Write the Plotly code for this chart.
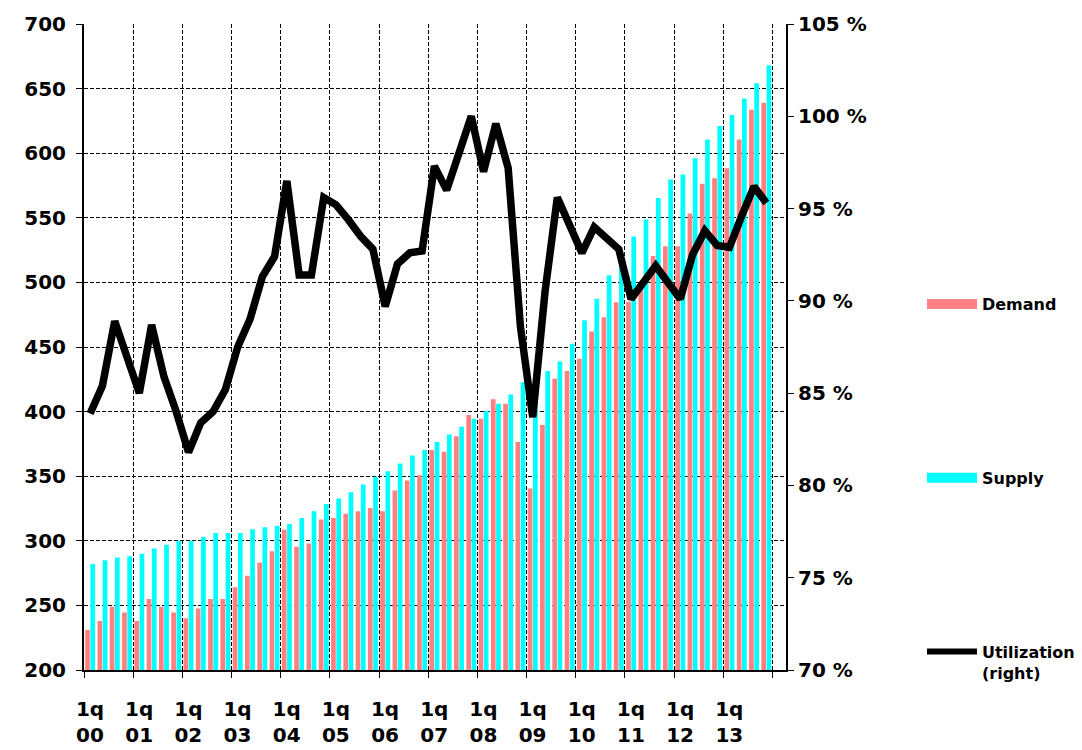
import plotly.graph_objects as go

years = ["00", "01", "02", "03", "04", "05", "06", "07", "08", "09", "10", "11", "12", "13"]
quarters = [f"{q}q{y}" for y in years for q in range(1, 5)]
tick_labels = [f"1q<br>{y}" for y in years] + [""]

demand = [231, 238, 249, 244.5, 238, 255, 249, 244.5,
          240, 247.6, 255, 255, 264, 273, 283, 292,
          308.6, 295.4, 298, 316.4, 317.7, 321, 322.8, 325.4,
          322.8, 339, 346.6, 350.8, 370.2, 368.9, 381, 397.3,
          394.5, 409.5, 406, 376.4, 340.4, 389.7, 425.5, 431.5,
          441, 462, 473, 484.7, 485, 500, 520.5, 528,
          528, 553.4, 576.3, 580.6, 588.4, 610.7, 633.6, 639.1]

supply = [282, 285, 287, 288, 290, 294, 297, 300,
          300, 303, 306, 306, 306, 309, 310.4, 311.7,
          313, 317.7, 322.8, 328.5, 332.7, 337.6, 343.5, 349.5,
          353.9, 359.8, 366, 370.2, 376.4, 382.3, 388.3, 394.5,
          400.4, 406, 413.3, 422.8, 426, 431.5, 438.8, 452.6,
          470.8, 487.3, 505.5, 520, 535.5, 548.6, 565.3, 579.6,
          583.5, 596, 610.7, 621, 629.6, 642.4, 654.2, 668]

utilization = [83.9, 85.4, 88.9, 87.0, 85.0, 88.7, 85.9, 84.0,
               81.8, 83.4, 84.0, 85.2, 87.5, 89.0, 91.3, 92.4,
               96.5, 91.4, 91.4, 95.6, 95.2, 94.4, 93.5, 92.8,
               89.7, 92.0, 92.6, 92.7, 97.3, 96.0, 98.0, 100.0,
               97.0, 99.6, 97.2, 88.6, 83.7, 90.5, 95.6, 94.1,
               92.6, 94.0, 93.4, 92.8, 90.1, 91.0, 91.9, 91.0,
               90.1, 92.5, 93.8, 93.0, 92.9, 94.6, 96.2, 95.3]

DEMAND_COLOR = "#FF8080"
SUPPLY_COLOR = "#00FFFF"
FONT = dict(family="DejaVu Sans", size=20, color="black", weight="bold")
LEGEND_FONT = dict(family="DejaVu Sans", size=16, color="black", weight="bold")

x = [i + 0.5 for i in range(len(quarters))]

fig = go.Figure()
fig.add_bar(x=x, y=demand, name="Demand", marker=dict(color=DEMAND_COLOR, line_width=0),
            customdata=quarters, showlegend=False)
fig.add_bar(x=x, y=supply, name="Supply", marker=dict(color=SUPPLY_COLOR, line_width=0),
            customdata=quarters, showlegend=False)
fig.add_scatter(x=x, y=utilization, yaxis="y2", mode="lines", name="Utilization<br>(right)",
                line=dict(color="black", width=7.5), showlegend=False)

# legend entries
fig.add_scatter(x=[None], y=[None], mode="lines", name="Demand", legendgroup="a",
                line=dict(color=DEMAND_COLOR, width=10))
fig.add_scatter(x=[None], y=[None], mode="lines", name="Supply", legendgroup="b",
                line=dict(color=SUPPLY_COLOR, width=10))
fig.add_scatter(x=[None], y=[None], mode="lines", name="Utilization<br>(right)", legendgroup="c",
                yaxis="y2", line=dict(color="black", width=6))

fig.update_layout(
    width=1082, height=750,
    margin=dict(l=84, r=296, t=24, b=80, autoexpand=False),
    plot_bgcolor="white", paper_bgcolor="white",
    barmode="group", bargap=0.15, bargroupgap=0.1,
    font=FONT,
    xaxis=dict(
        range=[0, 57.1], tickmode="array",
        tickvals=list(range(0, 57, 4)), ticktext=tick_labels,
        ticklabelshift=6, ticklabelstandoff=14,
        showgrid=True, gridcolor="black", gridwidth=1, griddash="4px,2px",
        showline=True, linecolor="black", linewidth=2,
        ticks="outside", ticklen=6, tickcolor="black", tickwidth=1,
        zeroline=False, tickfont=FONT,
    ),
    yaxis=dict(
        range=[200, 700], dtick=50, tick0=200,
        showgrid=True, gridcolor="black", gridwidth=1, griddash="4px,2px",
        showline=True, linecolor="black", linewidth=2,
        ticks="outside", ticklen=6, tickcolor="black", tickwidth=1,
        zeroline=False, tickfont=FONT, ticklabelstandoff=6,
    ),
    yaxis2=dict(
        range=[70, 105], dtick=5, tick0=70, ticksuffix=" %",
        overlaying="y", side="right", anchor="x",
        showgrid=False, zeroline=False,
        showline=True, linecolor="black", linewidth=2,
        ticks="outside", ticklen=6, tickcolor="black", tickwidth=1,
        tickfont=FONT,
    ),
    legend=dict(
        x=1.1937, xanchor="left", y=0.5929, yanchor="top",
        traceorder="grouped", tracegroupgap=150, valign="top",
        font=LEGEND_FONT, maxheight=700,
        itemwidth=50, bgcolor="rgba(0,0,0,0)",
    ),
)

fig.write_html("out.html", config={"displayModeBar": False},
               post_script="document.body.style.margin='0';")
